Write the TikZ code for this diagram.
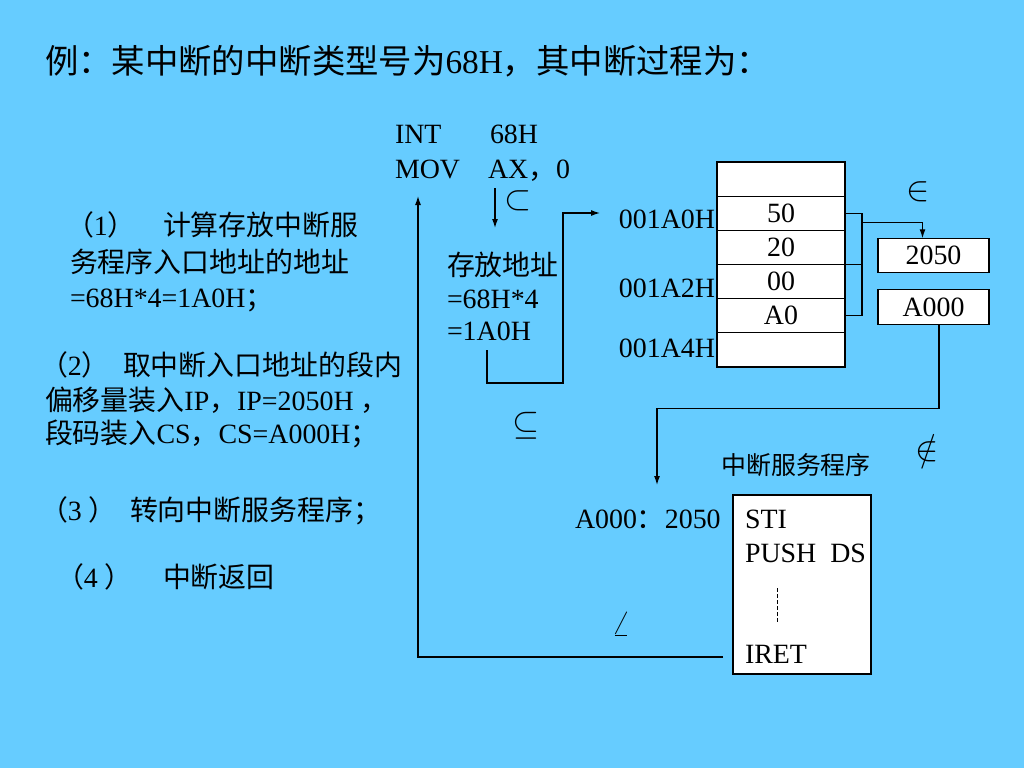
\RequirePackage{fix-cm}
\documentclass[tikz,border=0pt]{standalone}
\usepackage{fontspec}
\setmainfont{Liberation Serif}
\newfontfamily\cjk{Noto Sans CJK SC}
\usetikzlibrary{calc,arrows.meta}
\newcommand\zh[1]{{\cjk #1}}
\definecolor{slideblue}{RGB}{102,204,255}
\tikzset{%
  >={Latex[length=9bp,width=6bp]},
  inner sep=0pt,%
  outer sep=0pt,%
  txt/.style={anchor=base west,font=\fontsize{28}{34}\selectfont},
  sym/.style={font=\fontsize{28}{34}\selectfont},
  mathsym/.style={sym,scale=1.25},
  cell/.style={draw,fill=white,minimum width=128bp,minimum height=34.2bp,
    font=\fontsize{28}{34}\selectfont},
  regbox/.style={draw,fill=white,minimum width=111bp,minimum height=34.5bp,
    font=\fontsize{28}{34}\selectfont}%
}

\begin{document}
\begin{tikzpicture}[x=1bp,y=-1bp,line width=1.2bp]
%% slide background
\fill[slideblue] (0,0) rectangle (1024,768);
\useasboundingbox (0,0) rectangle (1024,768);

%% title
\node[txt,font=\fontsize{33.5}{40}\selectfont] (title) at (45,74)
  {\zh{例：某中断的中断类型号为}68H\zh{，其中断过程为：}};

%% steps on the left
\node[txt] (s1n) at (66,235) {\zh{（}1\zh{）}};
\node[txt] (s1a) at (163,235) {\zh{计算存放中断服}};
\node[txt] (s1b) at (70,272) {\zh{务程序入口地址的地址}};
\node[txt] (s1c) at (70,307) {=68H*4=1A0H\zh{；}};
\node[txt] (s2n) at (40,375) {\zh{（}2\zh{）}};
\node[txt] (s2a) at (123,375) {\zh{取中断入口地址的段内}};
\node[txt] (s2b) at (45,410) {\zh{偏移量装入}IP\zh{，}IP=2050H \zh{，}};
\node[txt] (s2c) at (45,443) {\zh{段码装入}CS\zh{，}CS=A000H\zh{；}};
\node[txt] (s3n) at (40,520) {\zh{（}3 \zh{）}};
\node[txt] (s3a) at (130,520) {\zh{转向中断服务程序；}};
\node[txt] (s4n) at (56,587) {\zh{（}4 \zh{）}};
\node[txt] (s4a) at (163,587) {\zh{中断返回}};

%% instructions and vector address
\node[txt] (int) at (395,143) {INT};
\node[txt] (vec) at (490,143) {68H};
\node[txt] (mov) at (395,178) {MOV};
\node[txt] (ax) at (488,178) {AX\zh{，}0};
\node[txt] (addr1) at (447,275) {\zh{存放地址}};
\node[txt] (addr2) at (447,308) {=68H*4};
\node[txt] (addr3) at (447,340) {=1A0H};

%% interrupt vector table
\foreach \i/\v in {1/{},2/50,3/20,4/00,5/A0,6/{}}
  \node[cell] (cell\i) at (781,{144.9+34.17*\i}) {\v};
\node[txt,anchor=base east] (a0) at (715,228) {001A0H};
\node[txt,anchor=base east] (a2) at (715,297) {001A2H};
\node[txt,anchor=base east] (a4) at (715,357) {001A4H};

\node[regbox] (ip) at (933.5,255.5) {2050};
\node[regbox] (cs) at (933.5,307) {A000};

%% service routine
\node[sym,font=\fontsize{25}{30}\selectfont,anchor=base] (isrname) at (796,474)
  {\zh{中断服务程序}};
\node[txt] (entrylbl) at (575,528) {A000\zh{：}2050};
\node[draw,fill=white,minimum width=138bp,minimum height=179bp] (isr) at (802,584.5) {};
\node[txt] (sti) at (745,528) {STI};
\node[txt] (push) at (745,562) {PUSH\ \ DS};
\node[txt] (iret) at (745,663) {IRET};
\draw[line width=0.8bp,dash pattern=on 4bp off 2bp] (777,588) -- (777,622);

%% symbols
\node[mathsym] (m1) at (518,201) {$\subset$};
\node[mathsym] (m2) at (918,192) {$\in$};
\node[mathsym] (m3) at (526,426) {$\subseteq$};
\node[mathsym] (m4) at (927,448) {$\notin$};
\node[mathsym] (m5) at (621,624) {$\angle$};

%% connectors
\coordinate (movout) at (495,188);
\coordinate (addrin) at (495,228);
\draw[->] (movout) -- (addrin);

\coordinate (addrout) at (487,350);
\coordinate (turn) at (563,383);
\coordinate (tabin) at (600,213);
\draw[->] (addrout) |- (turn) |- (tabin);

\draw (cell2.east) -- ++(17,0) coordinate (brk) |- (cell5.east);
\draw (cell3.south east) -- (cell3.south east -| brk);
\draw[->] ($(brk)+(0,9)$) -| ($(ip.north)+(-11,0)$);

\coordinate (entry) at (657,485);
\draw[->] ($(cs.south)+(5.5,0)$) -- ++(0,84) -| (entry);

\coordinate (retfrom) at (723,657);
\coordinate (retto) at (418,196);
\draw[->] (retfrom) -| (retto);

\end{tikzpicture}
\end{document}
